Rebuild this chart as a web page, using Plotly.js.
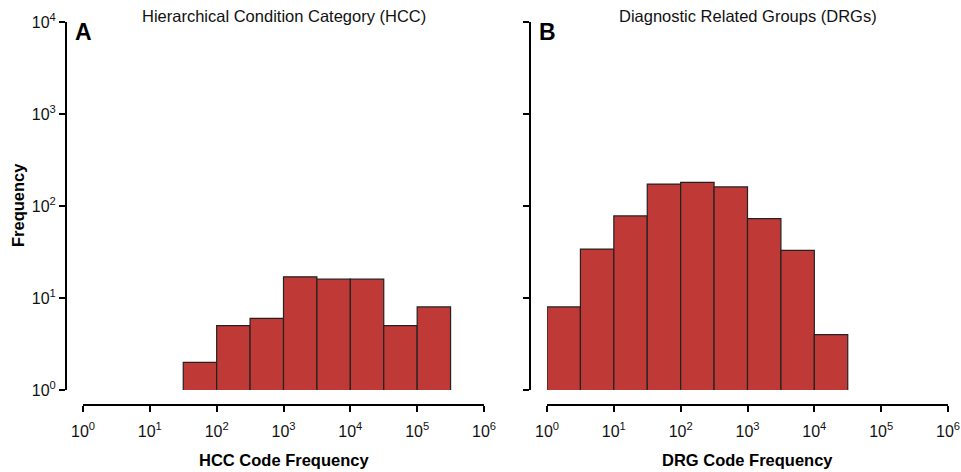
<!DOCTYPE html>
<html>
<head>
<meta charset="utf-8">
<script src="https://cdn.plot.ly/plotly-3.0.1.min.js"></script>
<style>html,body{margin:0;padding:0;background:#fff;}#chart{width:961px;height:472px;}</style>
</head>
<body>
<div id="chart"></div>
<script>
// Bin lower edges as log10 exponents (half-decade bins)
const hccBinStart = [1.5, 2.0, 2.5, 3.0, 3.5, 4.0, 4.5, 5.0];
const hccCounts   = [2, 5, 6, 17, 16, 16, 5, 8];
const drgBinStart = [0.0, 0.5, 1.0, 1.5, 2.0, 2.5, 3.0, 3.5, 4.0];
const drgCounts   = [8, 34, 78, 173, 181, 161, 73, 33, 4];
const binWidth = 0.5;
const xTickVals = [0, 1, 2, 3, 4, 5, 6];
const xTickText = ['10<sup>0</sup>','10<sup>1</sup>','10<sup>2</sup>','10<sup>3</sup>','10<sup>4</sup>','10<sup>5</sup>','10<sup>6</sup>'];
const yTickVals = [1, 10, 100, 1000, 10000];
const yTickText = ['10<sup>0</sup>','10<sup>1</sup>','10<sup>2</sup>','10<sup>3</sup>','10<sup>4</sup>'];

const W = 961, H = 472;
const barColor = '#BF3A36';
const fam = 'Liberation Sans, Arial, sans-serif';
const tickFont = {family: fam, size: 16, color: '#111'};

function centers(starts){ return starts.map(s => s + binWidth/2); }

const traces = [
  {type:'bar', x: centers(hccBinStart), y: hccCounts, width: binWidth, textposition:'none',
   xaxis:'x', yaxis:'y', marker:{color:barColor, line:{color:'#222', width:1.2}}, hoverinfo:'x+y'},
  {type:'bar', x: centers(drgBinStart), y: drgCounts, width: binWidth, textposition:'none',
   xaxis:'x2', yaxis:'y2', marker:{color:barColor, line:{color:'#222', width:1.2}}, hoverinfo:'x+y'}
];

const yDomain = [1 - 390/H, 1 - 22/H];
const xAxisPos = 1 - 405/H;

function xAxis(d0, d1){
  return {domain:[d0/W, d1/W], range:[0,6], anchor:'free', position:xAxisPos,
    tickvals:xTickVals, ticktext:xTickText, ticks:'outside', ticklen:6, tickwidth:2, tickcolor:'#000',
    ticklabelstandoff:6,
    showline:true, linecolor:'#000', linewidth:2, showgrid:false, zeroline:false,
    tickfont:tickFont, fixedrange:true};
}
function yAxis(pos, showLabels){
  return {type:'log', domain:yDomain, range:[0,4], anchor:'free', position:pos/W,
    tickvals:yTickVals, ticktext:yTickText, showticklabels:showLabels,
    ticks:'outside', ticklen:6, tickwidth:2, tickcolor:'#000', ticklabelstandoff:0,
    showline:true, linecolor:'#000', linewidth:2, showgrid:false, zeroline:false,
    tickfont:tickFont, fixedrange:true};
}

const layout = {
  width:W, height:H, margin:{l:0,r:0,t:0,b:0}, paper_bgcolor:'#fff', plot_bgcolor:'rgba(0,0,0,0)',
  showlegend:false, bargap:0,
  xaxis: xAxis(83, 484),
  yaxis: yAxis(66, true),
  xaxis2: xAxis(547, 948),
  yaxis2: yAxis(530, false),
  annotations:[
    {text:'Hierarchical Condition Category (HCC)', xref:'x', x:3, yref:'paper', y:1-16/H, showarrow:false,
     font:{family:fam, size:16.5, color:'#111'}, xanchor:'center', yanchor:'middle'},
    {text:'Diagnostic Related Groups (DRGs)', xref:'x2', x:3, yref:'paper', y:1-16/H, showarrow:false,
     font:{family:fam, size:16.5, color:'#111'}, xanchor:'center', yanchor:'middle'},
    {text:'<b>A</b>', xref:'paper', x:73/W, yref:'paper', y:1-32/H, showarrow:false, xanchor:'left', yanchor:'middle',
     font:{family:fam, size:23, color:'#000'}},
    {text:'<b>B</b>', xref:'paper', x:537/W, yref:'paper', y:1-32/H, showarrow:false, xanchor:'left', yanchor:'middle',
     font:{family:fam, size:23, color:'#000'}},
    {text:'<b>Frequency</b>', xref:'paper', x:18/W, yref:'paper', y:1-205/H, showarrow:false, textangle:-90,
     xanchor:'center', yanchor:'middle', font:{family:fam, size:16.5, color:'#000'}},
    {text:'<b>HCC Code Frequency</b>', xref:'x', x:3, yref:'paper', y:1-460/H, showarrow:false,
     xanchor:'center', yanchor:'middle', font:{family:fam, size:16.5, color:'#000'}},
    {text:'<b>DRG Code Frequency</b>', xref:'x2', x:3, yref:'paper', y:1-460/H, showarrow:false,
     xanchor:'center', yanchor:'middle', font:{family:fam, size:16.5, color:'#000'}}
  ]
};

Plotly.newPlot('chart', traces, layout, {displayModeBar:false, staticPlot:true});
</script>
</body>
</html>
